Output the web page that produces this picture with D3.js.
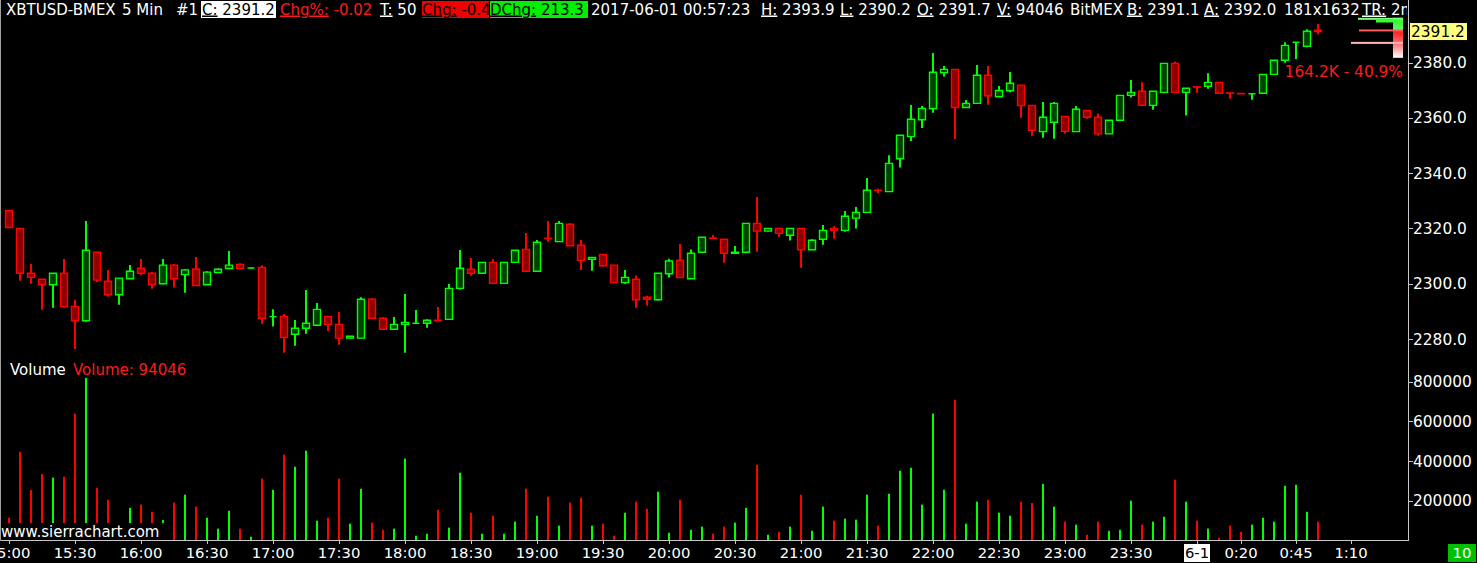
<!DOCTYPE html>
<html><head><meta charset="utf-8">
<script src="https://cdn.jsdelivr.net/npm/d3@7"></script>
<style>
html,body{margin:0;padding:0;background:#000;overflow:hidden}
svg{display:block}
text{font-family:"DejaVu Sans",Verdana,sans-serif;font-size:15.4px}
text.hd{font-size:15px}
text.tm{font-size:14.8px}
</style></head><body>
<svg id="c" width="1477" height="563"></svg>
<script>
// ---------- DATA ----------
const times = ["15:00","15:05","15:10","15:15","15:20","15:25","15:30","15:35","15:40","15:45","15:50","15:55",
"16:00","16:05","16:10","16:15","16:20","16:25","16:30","16:35","16:40","16:45","16:50","16:55",
"17:00","17:05","17:10","17:15","17:20","17:25","17:30","17:35","17:40","17:45","17:50","17:55",
"18:00","18:05","18:10","18:15","18:20","18:25","18:30","18:35","18:40","18:45","18:50","18:55",
"19:00","19:05","19:10","19:15","19:20","19:25","19:30","19:35","19:40","19:45","19:50","19:55",
"20:00","20:05","20:10","20:15","20:20","20:25","20:30","20:35","20:40","20:45","20:50","20:55",
"21:00","21:05","21:10","21:15","21:20","21:25","21:30","21:35","21:40","21:45","21:50","21:55",
"22:00","22:05","22:10","22:15","22:20","22:25","22:30","22:35","22:40","22:45","22:50","22:55",
"23:00","23:05","23:10","23:15","23:20","23:25","23:30","23:35","23:40","23:45","23:50","23:55",
"0:00","0:05","0:10","0:15","0:20","0:25","0:30","0:35","0:40","0:45","0:50","0:55"];
const open = [2326.5,2320.0,2303.8,2301.6,2299.6,2303.8,2291.8,2286.6,2311.4,2300.9,2296.0,2301.8,
2305.6,2303.8,2300.0,2306.7,2303.3,2305.3,2299.6,2304.0,2305.5,2307.0,2305.7,2305.9,
2288.1,2288.2,2281.7,2283.9,2285.0,2288.2,2285.3,2280.3,2280.3,2294.4,2287.5,2283.5,
2285.3,2285.7,2285.7,2286.8,2287.1,2298.3,2305.2,2303.8,2307.7,2300.1,2307.7,2312.4,
2304.5,2316.4,2315.2,2321.5,2313.9,2308.8,2310.6,2306.7,2300.4,2301.6,2295.1,2294.2,
2303.6,2308.5,2301.8,2311.4,2316.5,2316.1,2311.0,2311.4,2321.8,2319.0,2320.0,2317.5,
2320.0,2312.3,2316.1,2320.0,2319.3,2323.7,2325.8,2333.8,2333.3,2345.2,2353.2,2359.3,
2363.3,2376.3,2377.5,2363.7,2365.2,2375.4,2367.6,2369.8,2371.8,2364.5,2355.0,2358.4,
2360.5,2355.0,2362.7,2360.2,2354.2,2359.1,2368.1,2369.6,2364.5,2369.2,2379.7,2369.2,
2371.2,2371.4,2372.8,2369.0,2368.8,2368.7,2368.9,2375.7,2380.8,2387.3,2385.9,2391.7];
const high = [2326.5,2320.0,2307.1,2301.6,2303.8,2308.9,2294.1,2322.7,2311.4,2305.0,2302.0,2306.8,
2308.9,2304.2,2308.9,2307.1,2305.3,2309.7,2304.5,2305.5,2311.8,2307.4,2305.9,2306.7,
2290.8,2289.0,2286.9,2297.7,2293.0,2288.2,2289.8,2281.0,2295.1,2294.7,2287.9,2288.0,
2296.3,2290.5,2287.1,2291.6,2299.9,2312.2,2309.3,2307.7,2308.8,2307.7,2312.1,2318.3,
2315.8,2322.7,2322.7,2321.9,2315.8,2309.5,2310.6,2306.7,2305.0,2303.0,2295.6,2303.8,
2309.0,2314.4,2312.4,2316.8,2317.6,2316.1,2313.6,2321.8,2331.4,2320.0,2320.0,2320.0,
2320.0,2316.1,2321.2,2320.8,2326.3,2327.7,2338.2,2334.3,2346.5,2353.7,2364.6,2364.3,
2383.4,2378.7,2377.5,2366.4,2379.1,2378.7,2371.5,2376.6,2371.8,2364.5,2365.7,2365.7,
2360.5,2364.3,2362.7,2361.6,2359.1,2368.1,2373.7,2372.9,2369.6,2379.7,2380.4,2370.7,
2371.2,2376.1,2372.8,2369.0,2368.8,2368.7,2375.7,2380.8,2387.3,2387.3,2392.0,2393.9];
const low = [2320.3,2301.1,2300.0,2290.6,2291.3,2291.3,2276.4,2286.3,2300.6,2295.3,2292.4,2301.8,
2303.1,2298.2,2300.0,2298.6,2296.7,2299.3,2299.6,2304.0,2305.5,2305.2,2305.5,2285.5,
2284.5,2275.0,2277.6,2281.9,2285.0,2282.9,2277.9,2280.3,2280.3,2287.5,2283.5,2283.5,
2275.0,2285.7,2284.1,2286.6,2287.1,2297.9,2302.9,2303.8,2300.1,2300.1,2307.7,2304.5,
2304.5,2315.2,2315.2,2313.7,2305.0,2304.7,2306.2,2300.4,2300.0,2291.3,2292.0,2293.9,
2302.2,2302.2,2301.8,2311.4,2316.4,2307.6,2311.0,2311.4,2311.6,2319.0,2317.0,2315.6,
2305.8,2312.3,2314.1,2316.3,2318.8,2320.0,2325.8,2332.7,2333.3,2342.0,2351.6,2356.3,
2361.8,2374.9,2352.3,2363.7,2365.2,2364.7,2367.6,2369.2,2360.0,2353.5,2352.8,2352.4,
2354.2,2355.0,2359.7,2353.5,2354.2,2359.1,2367.3,2364.5,2362.9,2368.9,2369.2,2360.8,
2369.1,2370.5,2368.9,2366.9,2368.7,2366.5,2368.9,2375.7,2379.9,2381.2,2385.5,2390.2];
const close = [2320.3,2303.8,2302.3,2299.6,2303.8,2291.7,2286.6,2312.1,2301.3,2296.0,2302.0,2304.5,
2303.8,2299.6,2306.7,2301.8,2305.0,2299.3,2304.2,2305.2,2306.7,2305.5,2305.7,2287.5,
2288.1,2280.6,2283.9,2285.7,2290.7,2285.3,2280.3,2281.0,2294.4,2287.5,2283.5,2285.3,
2286.0,2285.7,2286.8,2286.6,2298.3,2305.6,2303.8,2307.7,2300.1,2307.7,2312.1,2304.5,
2315.0,2316.3,2321.8,2313.7,2308.5,2309.5,2306.5,2300.4,2302.3,2294.2,2294.4,2303.8,
2308.2,2302.2,2311.0,2316.8,2316.4,2311.0,2311.4,2321.8,2319.0,2320.0,2318.2,2320.0,
2312.3,2315.7,2319.3,2319.3,2324.4,2325.8,2333.8,2333.7,2343.5,2353.7,2359.5,2363.4,
2376.5,2377.5,2363.7,2365.2,2375.4,2368.0,2369.9,2372.5,2364.4,2355.5,2360.2,2365.2,
2355.1,2363.1,2360.2,2354.2,2359.1,2368.1,2369.2,2364.5,2369.6,2379.7,2369.2,2370.7,
2371.1,2372.8,2368.9,2368.9,2368.7,2368.7,2375.7,2380.8,2386.2,2387.3,2391.3,2391.2];
const volume = [114000,447000,254000,334000,316000,321000,639000,819000,265000,205000,60000,164000,
180000,144000,102000,190000,230000,170000,114000,59000,149000,59000,18000,311000,
255000,432000,371000,452000,99000,114000,311000,84000,260000,89000,53000,59000,
412000,23000,33000,154000,64000,341000,139000,33000,124000,33000,94000,260000,
124000,220000,74000,190000,215000,74000,84000,23000,139000,195000,159000,245000,
38000,205000,53000,69000,33000,69000,89000,164000,381000,28000,43000,69000,
230000,48000,170000,99000,109000,104000,230000,74000,235000,351000,366000,180000,
639000,255000,709000,84000,195000,205000,139000,124000,195000,188000,285000,170000,
94000,79000,28000,94000,48000,53000,200000,79000,94000,119000,306000,195000,
99000,59000,13000,74000,43000,79000,114000,94000,275000,280000,144000,94046];
const priceTicks = [2280,2300,2320,2340,2360,2380];
const volumeTicks = [200000,400000,600000,800000];
const timeTicks = ["15:00","15:30","16:00","16:30","17:00","17:30","18:00","18:30","19:00","19:30",
"20:00","20:30","21:00","21:30","22:00","22:30","23:00","23:30","0:00","0:20","0:45","1:10"];
const timeTickLabels = ["15:00","15:30","16:00","16:30","17:00","17:30","18:00","18:30","19:00","19:30",
"20:00","20:30","21:00","21:30","22:00","22:30","23:00","23:30","6-1","0:20","0:45","1:10"];
// volume-at-price profile (top right)
const profilePrice = [2395.8, 2395.0, 2391.6, 2387.1];
const profileLen = [45, 27, 44, 52];
const profileColor = ["#7cff7c", "#33ff33", "#ff5a5a", "#ffb8b8"];
const lastPrice = 2391.2;

// ---------- SCALES ----------
function parseT(s){const [h,m]=s.split(":").map(Number);return new Date(2017,4,h<12?32:31,h,m);}
const x = d3.scaleTime().domain([parseT("15:00"),parseT("0:00")]).range([9,1197]);
const yP = d3.scaleLinear().domain([2280,2380]).range([339,62.5]);
const yV = d3.scaleLinear().domain([0,800000]).range([540.3,381.7]);

const svg = d3.select("#c");
svg.append("rect").attr("width",1477).attr("height",563).attr("fill","#000");
const defs = svg.append("defs");
defs.append("clipPath").attr("id","plot").append("rect").attr("x",0).attr("y",0).attr("width",1408).attr("height",540);
defs.append("clipPath").attr("id","hclip").append("rect").attr("x",0).attr("y",0).attr("width",1407).attr("height",20);

const bars = times.map((t,i)=>({t:parseT(t),o:open[i],h:high[i],l:low[i],c:close[i],v:volume[i],up:close[i]>=open[i]}));
const G="#00ff00", R="#ff0000", GF="#004000", RF="#8c0000";

const plot = svg.append("g").attr("clip-path","url(#plot)");

// Volume bars
plot.selectAll("rect.vol").data(bars).join("rect").attr("class","vol")
 .attr("x",d=>Math.round(x(d.t))-1).attr("width",2)
 .attr("y",d=>yV(d.v)).attr("height",d=>yV(0)-yV(d.v))
 .attr("fill",d=>d.up?G:R);

// Wicks
plot.selectAll("line.wick").data(bars).join("line").attr("class","wick")
 .attr("x1",d=>Math.round(x(d.t))).attr("x2",d=>Math.round(x(d.t)))
 .attr("y1",d=>yP(d.h)).attr("y2",d=>yP(d.l))
 .attr("stroke",d=>d.up?G:R).attr("stroke-width",2);

// Bodies
plot.selectAll("path.body").data(bars).join("path").attr("class","body")
 .attr("d",d=>{const xc=Math.round(x(d.t));const y1=yP(Math.max(d.o,d.c)), y2=yP(Math.min(d.o,d.c));
   return `M${xc-3.5},${y1}H${xc+3.5}V${y2}H${xc-3.5}Z`;})
 .attr("fill",d=>d.up?GF:RF).attr("stroke",d=>d.up?G:R).attr("stroke-width",1.4);

// Volume profile
const grad = defs.append("linearGradient").attr("id","pg").attr("x1",0).attr("x2",0).attr("y1",0).attr("y2",1);
[[0,"#30e030"],[0.3,"#60ff60"],[0.34,"#ff2020"],[0.6,"#ff6060"],[1,"#ffffff"]].forEach(s=>grad.append("stop").attr("offset",s[0]).attr("stop-color",s[1]));
plot.append("rect").attr("x",1393).attr("width",10).attr("y",yP(2396.2)).attr("height",yP(2381.7)-yP(2396.2)).attr("fill","url(#pg)");
plot.selectAll("rect.prof").data(profilePrice).join("rect").attr("class","prof")
 .attr("x",(d,i)=>1403-profileLen[i]).attr("width",(d,i)=>profileLen[i])
 .attr("y",(d,i)=>yP(d)-(i==1?1.5:1)).attr("height",(d,i)=>i==1?3:2)
 .attr("fill",(d,i)=>profileColor[i]);

plot.append("text").attr("x",1403).attr("y",yP(2376.8)).attr("dy","0.36em").attr("text-anchor","end")
 .attr("fill","#ff1a1a").text("164.2K - 40.9%");

// Axis lines
svg.append("line").attr("x1",0).attr("x2",1408).attr("y1",540.5).attr("y2",540.5).attr("stroke","#c8c8c8");
svg.append("line").attr("x1",1408.5).attr("x2",1408.5).attr("y1",0).attr("y2",541).attr("stroke","#c8c8c8");
svg.append("line").attr("x1",0.5).attr("x2",0.5).attr("y1",0).attr("y2",541).attr("stroke","#a0a0a0");

// Price axis
const pa = svg.append("g");
priceTicks.forEach(p=>{
  pa.append("line").attr("x1",1409).attr("x2",1413).attr("y1",Math.round(yP(p))+0.5).attr("y2",Math.round(yP(p))+0.5).attr("stroke","#c8c8c8");
  pa.append("text").attr("x",1413).attr("y",yP(p)).attr("dy","0.36em").attr("fill","#fff").text(p.toFixed(1));
});
// current price label
pa.append("rect").attr("x",1410).attr("y",yP(lastPrice)-8.5).attr("width",57).attr("height",17).attr("fill","#ffff80");
pa.append("text").attr("x",1411).attr("y",yP(lastPrice)).attr("dy","0.36em").attr("fill","#000").text(lastPrice.toFixed(1));

// Volume axis
volumeTicks.forEach(v=>{
  pa.append("line").attr("x1",1409).attr("x2",1413).attr("y1",Math.round(yV(v))+0.5).attr("y2",Math.round(yV(v))+0.5).attr("stroke","#c8c8c8");
  pa.append("text").attr("x",1413).attr("y",yV(v)).attr("dy","0.36em").attr("fill","#fff").text(String(v));
});

// Time axis
const ta = svg.append("g");
timeTicks.forEach((t,i)=>{
  const xx = Math.round(x(parseT(t)));
  ta.append("line").attr("x1",xx+0.5).attr("x2",xx+0.5).attr("y1",541).attr("y2",544).attr("stroke","#c8c8c8");
  const lab = timeTickLabels[i];
  if(lab==="6-1"){
    ta.append("rect").attr("x",xx-13).attr("y",544).attr("width",26).attr("height",18).attr("fill","#fff");
    ta.append("text").attr("class","tm").attr("x",xx).attr("y",553).attr("dy","0.36em").attr("text-anchor","middle").attr("fill","#000").text(lab);
  } else {
    ta.append("text").attr("class","tm").attr("x",xx).attr("y",553).attr("dy","0.36em").attr("text-anchor","middle").attr("fill","#fff").text(lab);
  }
});
svg.append("rect").attr("x",1448).attr("y",544).attr("width",28).attr("height",18).attr("fill","#00c000");
svg.append("text").attr("class","tm").attr("x",1462).attr("y",553).attr("dy","0.36em").attr("text-anchor","middle").attr("fill","#fff").text("10");

// Volume panel titles
svg.append("text").attr("class","hd").attr("x",10).attr("y",370).attr("dy","0.36em").attr("fill","#fff").text("Volume");
svg.append("text").attr("class","hd").attr("x",73).attr("y",370).attr("dy","0.36em").attr("fill","#ff1a1a").text("Volume: 94046");

// Watermark
svg.append("rect").attr("x",1).attr("y",523).attr("width",164).attr("height",17).attr("fill","#000");
svg.append("text").attr("class","hd").attr("x",1).attr("y",531.5).attr("dy","0.36em").attr("fill","#fff").text("www.sierrachart.com");

// Header
svg.append("rect").attr("x",201).attr("y",1).attr("width",75).attr("height",17).attr("fill","#fff");
svg.append("rect").attr("x",422).attr("y",1).attr("width",67).attr("height",17).attr("fill","#f00000");
svg.append("rect").attr("x",490).attr("y",1).attr("width",98).attr("height",17).attr("fill","#00f000");
const hdr = svg.append("g").attr("clip-path","url(#hclip)");
const segs = [
 {x:6, lab:"", val:"XBTUSD-BMEX", c:"#fff"},
 {x:122, lab:"", val:"5 Min", c:"#fff"},
 {x:176, lab:"", val:"#1", c:"#fff"},
 {x:202, lab:"C:", val:" 2391.2", c:"#000"},
 {x:280, lab:"Chg%:", val:" -0.02", c:"#ff1a1a"},
 {x:380, lab:"T:", val:" 50", c:"#fff"},
 {x:422, lab:"Chg:", val:" -0.4", c:"#000"},
 {x:490, lab:"DChg:", val:" 213.3", c:"#000"},
 {x:591, lab:"", val:"2017-06-01 00:57:23", c:"#fff"},
 {x:761, lab:"H:", val:" 2393.9", c:"#fff"},
 {x:840, lab:"L:", val:" 2390.2", c:"#fff"},
 {x:917, lab:"O:", val:" 2391.7", c:"#fff"},
 {x:997, lab:"V:", val:" 94046", c:"#fff"},
 {x:1070, lab:"", val:"BitMEX", c:"#fff"},
 {x:1127, lab:"B:", val:" 2391.1", c:"#fff"},
 {x:1204, lab:"A:", val:" 2392.0", c:"#fff"},
 {x:1284, lab:"", val:"181x1632", c:"#fff"},
 {x:1362, lab:"TR:", val:" 2m", c:"#fff"}
];
segs.forEach(s=>{
  const t = hdr.append("text").attr("class","hd").attr("x",s.x).attr("y",14.5).attr("fill",s.c).attr("xml:space","preserve");
  if(s.lab) t.append("tspan").attr("text-decoration","underline").text(s.lab);
  t.append("tspan").text(s.val);
});
</script>
</body></html>
